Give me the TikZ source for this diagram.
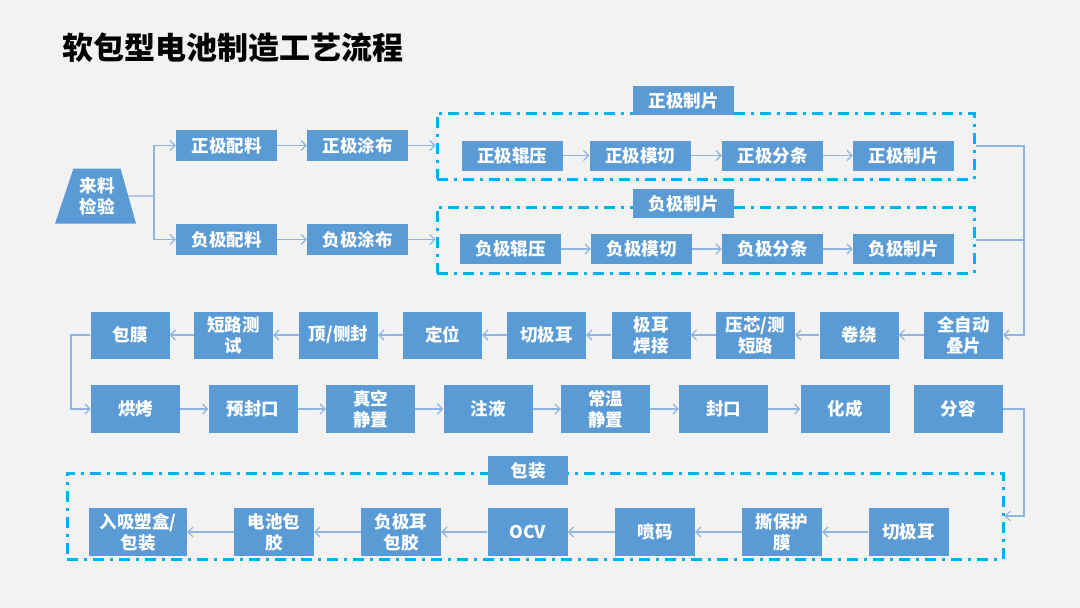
\documentclass[tikz,border=0pt]{standalone}
\usepackage{fontspec}
\newfontfamily\cjk{Noto Sans CJK SC}
\usetikzlibrary{arrows.meta,shapes.geometric}
\definecolor{bgc}{HTML}{F2F2F2}
\definecolor{boxblue}{HTML}{5B9BD5}
\definecolor{dashc}{HTML}{00B0F0}
\definecolor{linec}{HTML}{8EB4E3}
\tikzset{
  bx/.style={fill=boxblue, text=white, font=\cjk\bfseries\fontsize{17.5}{21}\selectfont, align=center, inner sep=0pt},
  r1/.style={bx, minimum width=101pt, minimum height=31pt},
  r2/.style={bx, minimum width=101pt, minimum height=30pt},
  r3/.style={bx, minimum width=79pt, minimum height=47pt},
  r4/.style={bx, minimum width=89pt, minimum height=48pt},
  r5/.style={bx, minimum width=80pt, minimum height=48pt},
  grp/.style={draw=dashc, line width=3pt, dash pattern=on 11pt off 6pt on 3pt off 6pt, inner sep=0pt},
  lbl/.style={bx, minimum height=29pt},
  conn/.style={draw=linec, line width=1.2pt, -{Straight Barb[length=5pt,width=10pt,line width=1.2pt]}},
  plain/.style={draw=linec, line width=1.2pt},
}
\begin{document}
\begin{tikzpicture}[x=1pt,y=-1pt]
\fill[bgc] (0,0) rectangle (1080,608);
\useasboundingbox (0,0) rectangle (1080,608);
% title
\node[anchor=west, font=\cjk\bfseries\fontsize{31}{36}\selectfont, text=black, inner sep=0pt] (title) at (62,48) {软包型电池制造工艺流程};
% group frames
\node[grp, minimum width=537pt, minimum height=66pt] (g1) at (705.5,146) {};
\node[grp, minimum width=537pt, minimum height=66pt] (g2) at (705.5,240) {};
\node[grp, minimum width=936pt, minimum height=86pt] (g3) at (535,516) {};
\node[lbl, minimum width=101pt] (l1) at (683.5,100.5) {正极制片};
\node[lbl, minimum width=101pt] (l2) at (683.5,203.5) {负极制片};
\node[lbl, minimum width=80pt] (l3) at (528,470.5) {包装};
% incoming inspection
\node[bx, shape=trapezium, trapezium stretches=true, trapezium left angle=70, trapezium right angle=73, minimum width=81pt, minimum height=55pt] (ll) at (97,196) {来料\\检验};
% row 1
\node[r1] (pp) at (226.5,145.5) {正极配料};
\node[r1] (pt) at (357.5,145.5) {正极涂布};
\node[r1] (np) at (226.5,239.5) {负极配料};
\node[r1] (nt) at (357.5,239.5) {负极涂布};
% positive group
\node[r2] (a1) at (512,155.5) {正极辊压};
\node[r2] (a2) at (640,155.5) {正极模切};
\node[r2] (a3) at (772.5,155.5) {正极分条};
\node[r2] (a4) at (903.5,155.5) {正极制片};
% negative group
\node[r2] (b1) at (510.5,249) {负极辊压};
\node[r2] (b2) at (641.5,249) {负极模切};
\node[r2] (b3) at (772.5,249) {负极分条};
\node[r2] (b4) at (903.5,249) {负极制片};
% row 3
\node[r3] (c1) at (963.5,335) {全自动\\叠片};
\node[r3] (c2) at (859,335) {卷绕};
\node[r3] (c3) at (755.5,335) {压芯/测\\短路};
\node[r3] (c4) at (651,335) {极耳\\焊接};
\node[r3] (c5) at (546.5,335) {切极耳};
\node[r3] (c6) at (442.5,335) {定位};
\node[r3] (c7) at (338.5,335) {顶/侧封};
\node[r3] (c8) at (233.5,335) {短路测\\试};
\node[r3] (c9) at (130,335) {包膜};
% row 4
\node[r4] (d1) at (135.5,409) {烘烤};
\node[r4] (d2) at (253,409) {预封口};
\node[r4] (d3) at (370.5,409) {真空\\静置};
\node[r4] (d4) at (488,409) {注液};
\node[r4] (d5) at (605.5,409) {常温\\静置};
\node[r4] (d6) at (723.5,409) {封口};
\node[r4] (d7) at (845,409) {化成};
\node[r4] (d8) at (958,409) {分容};
% row 5
\node[r5] (e1) at (908.5,532) {切极耳};
\node[r5] (e2) at (782,532) {撕保护\\膜};
\node[r5] (e3) at (655,532) {喷码};
\node[r5] (e4) at (527.5,532) {OCV};
\node[r5] (e5) at (401,532) {负极耳\\包胶};
\node[r5] (e6) at (274,532) {电池包\\胶};
\node[r5, minimum width=98pt] (e7) at (138,532) {入吸塑盒/\\包装};
% junction coordinates
\coordinate (br) at (154,196);
\coordinate (rj) at (1024,0);
\coordinate (lj) at (71,0);
% connectors
\draw[plain] (ll.east) -- (br);
\draw[conn] (br) |- (pp.west);
\draw[conn] (br) |- (np.west);
\draw[conn] (pp) -- (pt);
\draw[conn] (np) -- (nt);
\draw[conn] (pt.east) -- (pt.east -| g1.west);
\draw[conn] (nt.east) -- (nt.east -| g2.west);
\draw[conn] (a1) -- (a2);
\draw[conn] (a2) -- (a3);
\draw[conn] (a3) -- (a4);
\draw[conn] (b1) -- (b2);
\draw[conn] (b2) -- (b3);
\draw[conn] (b3) -- (b4);
\draw[conn] (g1.east) -- (g1.east -| rj) |- (c1.east);
\draw[plain] (g2.east) -- (g2.east -| rj);
\draw[conn] (c1) -- (c2);
\draw[conn] (c2) -- (c3);
\draw[conn] (c3) -- (c4);
\draw[conn] (c4) -- (c5);
\draw[conn] (c5) -- (c6);
\draw[conn] (c6) -- (c7);
\draw[conn] (c7) -- (c8);
\draw[conn] (c8) -- (c9);
\draw[conn] (c9.west) -- (c9.west -| lj) |- (d1.west);
\draw[conn] (d1) -- (d2);
\draw[conn] (d2) -- (d3);
\draw[conn] (d3) -- (d4);
\draw[conn] (d4) -- (d5);
\draw[conn] (d5) -- (d6);
\draw[conn] (d6) -- (d7);
\draw[conn] (d8.east) -- (d8.east -| rj) |- (g3.east);
\draw[conn] (e1) -- (e2);
\draw[conn] (e2) -- (e3);
\draw[conn] (e3) -- (e4);
\draw[conn] (e4) -- (e5);
\draw[conn] (e5) -- (e6);
\draw[conn] (e6) -- (e7);
\end{tikzpicture}
\end{document}
